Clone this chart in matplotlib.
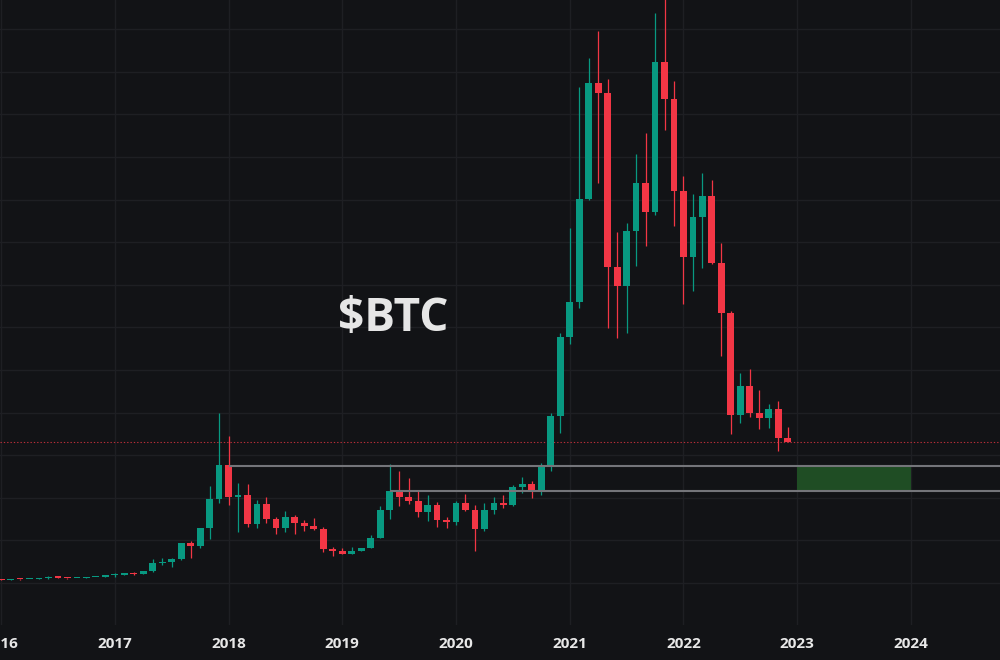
import matplotlib
matplotlib.use("Agg")
import matplotlib.pyplot as plt
import numpy as np

# monthly BTC candles, Jan 2016 .. Dec 2022
opens = [430, 368, 437, 416, 448, 531, 672, 624, 575, 609, 700, 742,
         963, 965, 1190, 1080, 1350, 2300, 2480, 2875, 4700, 4340, 6420, 9850,
         13800, 10150, 10330, 6930, 9250, 7480, 6400, 7720, 7000, 6680, 6380, 4040,
         3700, 3450, 3800, 4100, 5320, 8550, 10800, 10050, 9600, 8300, 9150, 7450,
         7150, 9350, 8550, 6350, 8600, 9400, 9100, 11300, 11650, 10800, 13750, 19650,
         28900, 33000, 45050, 58700, 57500, 37100, 34900, 41300, 47000, 43600, 61200, 56800,
         46000, 38300, 43000, 45450, 37550, 31700, 19750, 23150, 19900, 19350, 20450, 17050]
highs = [462, 448, 440, 468, 550, 780, 705, 627, 625, 740, 755, 980,
         1150, 1200, 1290, 1350, 2760, 2980, 2930, 4750, 4980, 6470, 11400, 19900,
         17250, 11780, 11620, 9750, 10060, 7770, 8450, 7980, 7400, 7590, 6580, 4250,
         4070, 4190, 4150, 5630, 9040, 13930, 13150, 12290, 10920, 10330, 9520, 7780,
         9580, 10450, 9150, 9350, 10060, 10330, 11450, 12480, 11970, 14050, 19900, 29380,
         41700, 58200, 61600, 64800, 59200, 41200, 42200, 50300, 52800, 66900, 69000, 58900,
         47800, 45700, 48100, 47300, 39900, 31900, 24600, 25100, 22700, 21000, 21400, 18300]
lows = [350, 365, 394, 412, 436, 525, 600, 470, 570, 606, 690, 740,
        750, 920, 890, 1060, 1340, 2100, 1830, 2670, 2970, 4110, 5130, 9430,
        9150, 6020, 6610, 6420, 7080, 5710, 5950, 5750, 6100, 6200, 3670, 3200,
        3350, 3380, 3700, 4070, 5320, 7480, 9040, 9270, 7780, 7280, 6610, 6420,
        6850, 8450, 3790, 6150, 8100, 8770, 8990, 10530, 9940, 10330, 13200, 17640,
        28020, 32240, 44950, 46900, 29900, 28800, 29300, 37200, 39500, 43200, 53200, 41900,
        32800, 34300, 37000, 37450, 26600, 17450, 18800, 19500, 18080, 18230, 15460, 16500]
closes = [368, 437, 416, 448, 531, 672, 624, 575, 609, 700, 742, 963,
          965, 1190, 1080, 1350, 2300, 2480, 2875, 4700, 4340, 6420, 9850, 13800,
          10150, 10330, 6930, 9250, 7480, 6400, 7720, 7000, 6680, 6380, 4040, 3700,
          3450, 3800, 4100, 5320, 8550, 10800, 10050, 9600, 8300, 9150, 7450, 7150,
          9350, 8550, 6350, 8600, 9400, 9100, 11300, 11650, 10800, 13750, 19650, 28900,
          33000, 45050, 58700, 57500, 37100, 34900, 41300, 47000, 43600, 61200, 56800, 46000,
          38300, 43000, 45450, 37550, 31700, 19750, 23150, 19900, 19350, 20450, 17050, 16550]

years = [2016, 2017, 2018, 2019, 2020, 2021, 2022, 2023, 2024]
upper_level = 13730   # Jan 2018 open
lower_level = 10800   # Jun 2019 close
upper_start = 24      # month index of Jan 2018
lower_start = 41      # month index of Jun 2019
zone_start, zone_end = 84, 96   # 2023 .. 2024

bg = "#121316"
up_col = "#089981"
down_col = "#f23645"

o = np.array(opens, dtype=float)
h = np.array(highs, dtype=float)
l = np.array(lows, dtype=float)
c = np.array(closes, dtype=float)
x = np.arange(len(o))
colors = np.where(c >= o, up_col, down_col)

fig = plt.figure(figsize=(10, 6.6), dpi=100, facecolor=bg)
ax = fig.add_axes([0, 35 / 660, 1, 625 / 660], facecolor=bg)

# wicks and bodies
ax.vlines(x, l, h, colors=colors, linewidth=0.9, zorder=3)
body_lo = np.minimum(o, c)
body_h = np.maximum(np.abs(c - o), 140)
ax.bar(x, body_h, bottom=body_lo, width=0.72, color=colors, linewidth=0, zorder=4)

# support / resistance lines and target zone
ax.hlines(upper_level, upper_start, 200, color="#74757a", linewidth=1.5, zorder=5)
ax.hlines(lower_level, lower_start, 200, color="#74757a", linewidth=1.5, zorder=5)
ax.fill_between([zone_start, zone_end], lower_level, upper_level,
                color="#1f4d24", linewidth=0, zorder=2)

# last price line
ax.axhline(closes[-1], color=down_col, linewidth=0.8, ls=(0, (1.2, 1.8)),
           alpha=0.75, zorder=2)

ax.text(0.393, 0.491, "$BTC", transform=ax.transAxes, ha="center", va="center",
        fontsize=33, color="#e6e6e6", family=["Open Sans", "DejaVu Sans"],
        fontweight="bold", zorder=6)

ax.set_xlim(-0.116, 105.4)
ax.set_ylim(-4930, 68430)
ax.set_xticks([(y - 2016) * 12 for y in years])
ax.set_xticklabels([str(y) for y in years])
ax.set_yticks(np.arange(0, 70000, 5000))
ax.tick_params(axis="y", left=False, labelleft=False)
ax.tick_params(axis="x", length=0, pad=9, labelsize=11, labelcolor="#e8e8e8")
for lab in ax.get_xticklabels():
    lab.set_fontweight("bold")
    lab.set_family(["Open Sans", "DejaVu Sans"])
ax.grid(True, color="#1e1f23", linewidth=1.0, zorder=0)
ax.set_axisbelow(True)
for s in ax.spines.values():
    s.set_visible(False)

fig.savefig("out.png", dpi=100, facecolor=bg)
